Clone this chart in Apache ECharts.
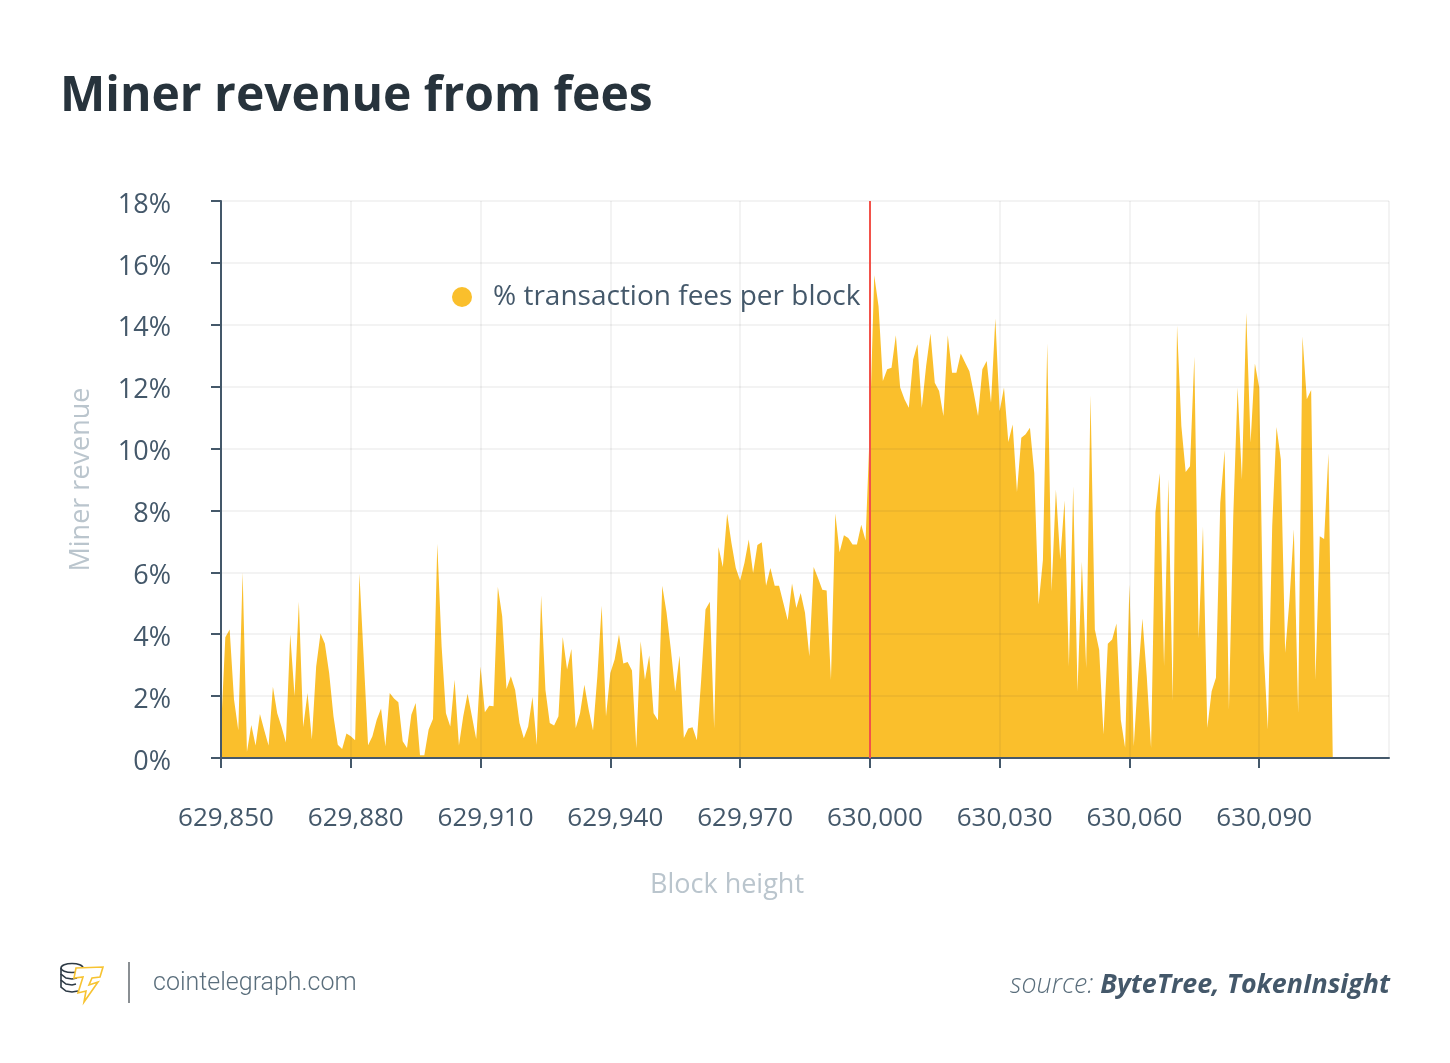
<!DOCTYPE html>
<html>
<head>
<meta charset="utf-8">
<style>
  html, body { margin: 0; padding: 0; background: #fff; }
  #chart { width: 1450px; height: 1063px; }
</style>
<script src="https://cdn.jsdelivr.net/npm/echarts@6/dist/echarts.min.js"></script>
</head>
<body>
<div id="chart"></div>
<script>
const firstBlock = 629850;
const halvingBlock = 630000;

// one value per block (%)
const feesA = [
  0.9, 3.9, 4.15, 1.9, 0.9, 6.0, 0.2, 1.07, 0.4, 1.42,
  0.9, 0.4, 2.3, 1.45, 1.0, 0.5, 4.0, 2.0, 5.05, 1.0,
  2.1, 0.6, 2.96, 4.02, 3.7, 2.75, 1.35, 0.43, 0.29, 0.79,
  0.7, 0.57, 5.96, 3.2, 0.41, 0.7, 1.24, 1.6, 0.38, 2.1,
  1.92, 1.8, 0.54, 0.32, 1.4, 1.78, 0.09, 0.09, 0.92, 1.26,
  6.92, 3.6, 1.45, 1.02, 2.53, 0.4, 1.35, 2.08, 1.35, 0.61,
  2.96, 1.48, 1.69, 1.67, 5.53, 4.58, 2.23, 2.64, 2.2, 1.13,
  0.64, 1.02, 1.97, 0.43, 5.25, 2.2, 1.13, 1.05, 1.35, 3.91,
  2.86, 3.52, 0.97, 1.45, 2.37, 1.56, 0.89, 2.64, 4.92, 1.35
];
const feesB = [
  2.75, 3.18, 3.99, 3.05, 3.1, 2.83, 0.32, 3.77, 2.53, 3.31,
  1.45, 1.22, 5.57, 4.69, 3.5, 2.16, 3.31, 0.65, 0.95, 0.99,
  0.57, 2.53, 4.8, 5.05, 0.97, 6.82, 6.17, 7.89, 6.95, 6.14,
  5.74, 6.3, 7.06, 5.98, 6.88, 6.97, 5.57, 6.14, 5.57, 5.57,
  5.01, 4.45, 5.64, 4.85, 5.33, 4.69, 3.29, 6.17, 5.82, 5.44,
  5.41, 2.53, 7.9, 6.65, 7.2, 7.11, 6.9, 6.9, 7.54, 7.03
];
const feesC = [
  10.73, 15.6, 14.6, 12.18, 12.56, 12.61, 13.66, 11.97, 11.59, 11.32,
  12.88, 13.37, 11.32, 12.67, 13.72, 12.13, 11.86, 11.05, 13.66, 12.45,
  12.45, 13.07, 12.78, 12.5, 11.8, 11.05, 12.56, 12.83, 11.48, 14.2,
  11.21, 11.97, 10.21, 10.78, 8.6, 10.35, 10.46, 10.67, 9.2, 4.96,
  6.4, 13.4, 5.4, 8.68, 6.42, 8.32, 2.97, 8.77, 2.16, 6.34,
  2.91, 11.72, 4.15, 3.5, 0.76, 3.69, 3.83, 4.35, 1.24, 0.33,
  5.61, 0.38, 2.65, 4.51, 2.65, 0.33, 7.93, 9.2, 2.97, 9.02,
  1.84, 13.98, 10.73, 9.24, 9.43, 12.97, 3.88, 7.47, 0.98, 2.16,
  2.59, 8.25, 9.94, 1.57, 7.82, 11.97, 9.0, 14.39, 10.19, 12.75,
  11.97, 3.5, 0.92, 7.49, 10.7, 9.65, 3.4, 5.12, 7.39, 1.46,
  13.62, 11.59, 11.89, 2.54, 7.17, 7.08, 9.84, 0
];
const fees = feesA.concat(feesB, feesC);

const INK = '#44586a';
const MUTED = '#bac5cd';
const GOLD = '#fabf2c';

const chart = echarts.init(document.getElementById('chart'), null, { renderer: 'canvas' });

chart.setOption({
  animation: false,
  backgroundColor: '#fff',
  textStyle: { fontFamily: '"Open Sans"' },
  title: {
    text: 'Miner revenue from fees',
    left: 55,
    top: 68,
    textStyle: { fontFamily: '"Open Sans"', fontSize: 48, fontWeight: 700, color: '#27333c' }
  },
  legend: {
    left: 447,
    top: 278,
    icon: 'circle',
    itemWidth: 20,
    itemHeight: 20,
    itemGap: 0,
    textStyle: { fontFamily: '"Open Sans"', fontSize: 28, color: INK, padding: [0, 0, 0, 16] }
  },
  grid: { left: 221, right: 61, top: 201, bottom: 305, containLabel: false },
  xAxis: {
    type: 'value',
    z: 3,
    min: firstBlock,
    max: 630120,
    interval: 30,
    name: 'Block height',
    nameLocation: 'middle',
    nameGap: 114,
    nameTextStyle: { fontSize: 27, color: MUTED, fontFamily: '"Open Sans"', padding: [0, 156, 0, 0] },
    axisLine: { show: true, lineStyle: { color: INK, width: 2 } },
    axisTick: { show: true, length: 10, lineStyle: { color: INK, width: 2 } },
    axisLabel: {
      show: true,
      showMaxLabel: false,
      margin: 48,
      fontSize: 26,
      color: INK,
      padding: [0, 0, 0, 10],
      formatter: v => v.toLocaleString('en-US')
    },
    splitLine: { show: true, lineStyle: { color: 'rgba(50,50,50,0.06)', width: 2 } }
  },
  yAxis: {
    type: 'value',
    z: 3,
    min: 0,
    max: 18,
    interval: 2,
    name: 'Miner revenue',
    nameLocation: 'middle',
    nameGap: 126,
    nameTextStyle: { fontSize: 27, color: MUTED, fontFamily: '"Open Sans"' },
    axisLine: { show: true, lineStyle: { color: INK, width: 2 } },
    axisTick: { show: true, length: 10, lineStyle: { color: INK, width: 2 } },
    axisLabel: {
      show: true,
      margin: 50,
      color: INK,
      formatter: '{v|{value}%}',
      rich: { v: { fontSize: 27, color: INK, fontFamily: '"Open Sans"', padding: [8, 0, 0, 0] } }
    },
    splitLine: { show: true, lineStyle: { color: 'rgba(50,50,50,0.06)', width: 2 } }
  },
  series: [{
    name: '% transaction fees per block',
    type: 'line',
    z: 2,
    showSymbol: false,
    symbol: 'circle',
    itemStyle: { color: GOLD },
    lineStyle: { width: 0, color: GOLD },
    areaStyle: { color: GOLD, opacity: 1 },
    data: fees.map((v, i) => [firstBlock + i, v]),
    markLine: {
      silent: true,
      symbol: 'none',
      z: 5,
      label: { show: false },
      lineStyle: { color: '#f2524a', width: 2, type: 'solid' },
      data: [{ xAxis: halvingBlock }]
    }
  }],
  graphic: [
    // coin stack
    { type: 'ellipse', shape: { cx: 72, cy: 968, rx: 11, ry: 4.5 }, style: { fill: '#fff', stroke: '#2d3a45', lineWidth: 1.6 } },
    { type: 'polyline', shape: { points: [[61, 968], [61, 974], [66, 978], [72, 979], [77, 978]] }, style: { fill: 'none', stroke: '#2d3a45', lineWidth: 1.6 } },
    { type: 'polyline', shape: { points: [[61, 974], [61, 980], [66, 984], [72, 985], [76, 984]] }, style: { fill: 'none', stroke: '#2d3a45', lineWidth: 1.6 } },
    { type: 'polyline', shape: { points: [[61, 980], [61, 987], [66, 991], [72, 992], [78, 991]] }, style: { fill: 'none', stroke: '#2d3a45', lineWidth: 1.6 } },
    // bolt
    { type: 'polygon', shape: { points: [[76, 968], [103, 967], [100, 977], [92, 978], [89, 985], [98, 982], [84, 1002], [86, 991], [78, 993], [83, 977], [74, 978]] }, style: { fill: '#fff', stroke: '#f7c331', lineWidth: 1.6 } },
    { type: 'line', shape: { x1: 129, y1: 962, x2: 129, y2: 1003 }, style: { stroke: '#8a8f93', lineWidth: 2 } },
    { type: 'text', left: 153, top: 971, style: { text: 'cointelegraph.com', font: '300 25px Roboto', fill: '#5a6e7c' } },
    {
      type: 'text',
      right: 60,
      top: 972,
      style: {
        text: '{a|source: }{b|ByteTree, TokenInsight}',
        rich: {
          a: { font: 'italic 300 26.8px "Open Sans"', fill: '#5a6e7c' },
          b: { font: 'italic 700 26.8px "Open Sans"', fill: INK }
        }
      }
    }
  ]
});
</script>
</body>
</html>
